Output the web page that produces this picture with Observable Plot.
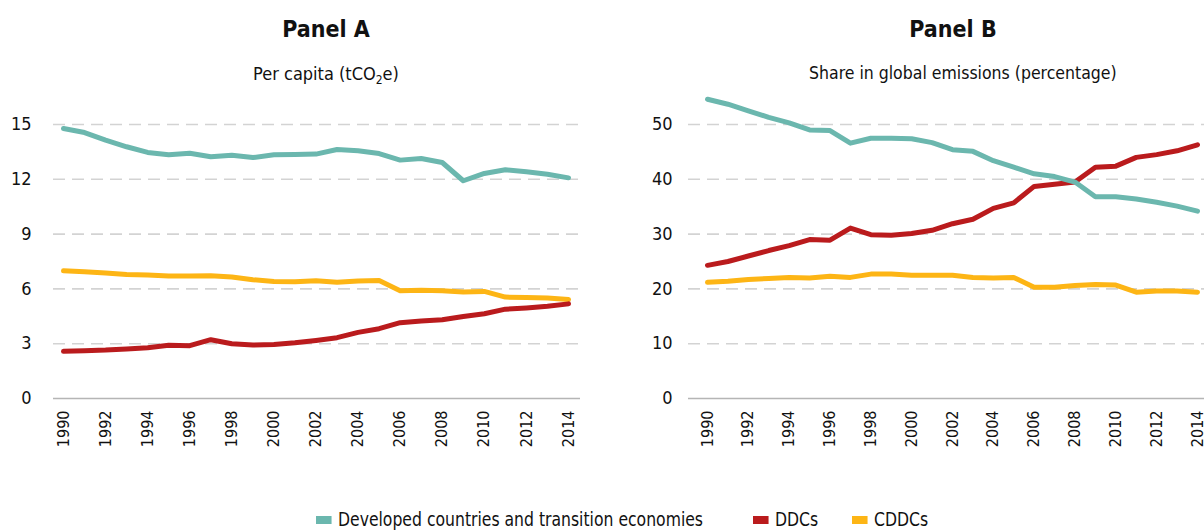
<!DOCTYPE html>
<html><head><meta charset="utf-8">
<script src="https://cdn.jsdelivr.net/npm/d3@7"></script>
<script src="https://cdn.jsdelivr.net/npm/@observablehq/plot@0.6"></script>
<style>
body{margin:0;background:#fff;width:1204px;height:531px;overflow:hidden;position:relative;font-family:"Liberation Sans Narrow","Arial Narrow","DejaVu Sans Condensed",sans-serif;color:#111;}
.t{position:absolute;text-align:center;white-space:nowrap;}
.title{font-weight:bold;font-size:23px;top:16px;}
.sub{font-size:18px;top:63px;}
.panel{position:absolute;top:95px;}
#legend{position:absolute;top:508px;left:0;width:1204px;height:23px;font-size:19px;}
.li{position:absolute;top:0;white-space:nowrap;transform:scaleX(0.915);transform-origin:0 50%;}
.sw{display:inline-block;width:17px;height:8px;margin-right:7px;vertical-align:middle;position:relative;top:-1px;}
</style></head>
<body>
<div class="t title" style="left:226px;width:200px;">Panel A</div>
<div class="t sub" style="left:226px;width:200px;">Per capita (tCO<sub style="font-size:12px;vertical-align:-4px;">2</sub>e)</div>
<div class="t title" style="left:853px;width:200px;">Panel B</div>
<div class="t sub" style="left:809px;width:300px;font-size:17.5px;">Share in global emissions (percentage)</div>
<div id="pA" class="panel" style="left:0px;"></div>
<div id="pB" class="panel" style="left:604px;"></div>
<div id="legend"></div>
<script>
const years = d3.range(1990, 2015);
const seriesNames = ["Developed countries and transition economies", "DDCs", "CDDCs"];
const seriesColors = ["#6BB7AE", "#BA1B1D", "#FDB515"];
const xTicks = [1990,1992,1994,1996,1998,2000,2002,2004,2006,2008,2010,2012,2014];
const yTicksA = [0,3,6,9,12,15];
const yTicksB = [0,10,20,30,40,50];

// Panel A: per capita (tCO2e)
const devA  = [14.78,14.56,14.14,13.78,13.47,13.34,13.43,13.23,13.32,13.19,13.34,13.36,13.38,13.63,13.56,13.41,13.05,13.14,12.92,11.92,12.32,12.52,12.41,12.28,12.08];
const ddcA  = [2.58,2.62,2.65,2.71,2.78,2.91,2.89,3.22,3.00,2.93,2.96,3.05,3.18,3.33,3.62,3.82,4.15,4.24,4.31,4.49,4.64,4.89,4.96,5.05,5.18];
const cddcA = [6.99,6.94,6.87,6.79,6.76,6.70,6.70,6.72,6.65,6.50,6.41,6.39,6.45,6.36,6.43,6.46,5.90,5.92,5.90,5.83,5.86,5.55,5.53,5.50,5.42];

// Panel B: share in global emissions (%)
const devB  = [54.6,53.7,52.5,51.3,50.3,49.0,48.9,46.6,47.5,47.5,47.4,46.7,45.4,45.1,43.4,42.2,41.0,40.5,39.5,36.8,36.8,36.4,35.8,35.1,34.2];
const ddcB  = [24.3,25.0,26.0,27.0,27.9,29.0,28.9,31.1,29.9,29.8,30.1,30.7,31.9,32.7,34.7,35.7,38.7,39.1,39.5,42.2,42.4,44.0,44.5,45.2,46.3];
const cddcB = [21.2,21.4,21.7,21.9,22.1,22.0,22.3,22.1,22.7,22.7,22.5,22.5,22.5,22.1,22.0,22.1,20.3,20.3,20.6,20.8,20.7,19.4,19.6,19.6,19.4];

const FONT = '"Liberation Sans Narrow","Arial Narrow","DejaVu Sans Condensed",sans-serif';

function toLong(dev, ddc, cddc) {
  const out = [];
  // draw order: CDDCs, DDCs, developed (on top)
  [[cddc, 2], [ddc, 1], [dev, 0]].forEach(([arr, i]) => {
    arr.forEach((v, k) => out.push({year: years[k], value: v, series: seriesNames[i]}));
  });
  return out;
}

function panel(dev, ddc, cddc, yTicks, o) {
  const data = toLong(dev, ddc, cddc);
  return Plot.plot({
    width: 600, height: 363,
    marginLeft: o.marginLeft, marginRight: o.marginRight, marginTop: 29, marginBottom: 60,
    style: {fontFamily: FONT, fontSize: "16px", color: "#111", background: "transparent", overflow: "visible"},
    x: {domain: [1990, 2014], insetLeft: o.insetLeft, insetRight: o.insetRight},
    y: {domain: [0, yTicks[yTicks.length - 1]]},
    color: {domain: seriesNames, range: seriesColors},
    marks: [
      Plot.ruleY(yTicks.filter(d => d > 0), {stroke: "#d3d3d3", strokeWidth: 1.6, strokeDasharray: "12,7"}),
      Plot.ruleY([0], {stroke: "#b5b5b5", strokeWidth: 1.5}),
      Plot.axisY({ticks: yTicks, tickSize: 0, tickPadding: o.yPad, fontSize: 18, label: null}),
      Plot.axisX({ticks: xTicks, tickSize: 0, tickRotate: -90, tickPadding: 12, tickFormat: d => String(d), fontSize: 16, label: null}),
      Plot.line(data, {x: "year", y: "value", z: "series", stroke: "series", strokeWidth: 5, strokeLinejoin: "round", strokeLinecap: "round"})
    ]
  });
}

document.getElementById("pA").appendChild(panel(devA, ddcA, cddcA, yTicksA, {marginLeft: 53, marginRight: 20, insetLeft: 10, insetRight: 12, yPad: 22}));
document.getElementById("pB").appendChild(panel(devB, ddcB, cddcB, yTicksB, {marginLeft: 84, marginRight: 0, insetLeft: 19, insetRight: 7, yPad: 16}));

const legendPos = [316, 753, 852];
const leg = document.getElementById("legend");
seriesNames.forEach((n, i) => {
  const d = document.createElement("div");
  d.className = "li";
  d.style.left = legendPos[i] + "px";
  d.innerHTML = `<span class="sw" style="background:${seriesColors[i]}"></span>${n}`;
  leg.appendChild(d);
});
</script>
</body></html>
